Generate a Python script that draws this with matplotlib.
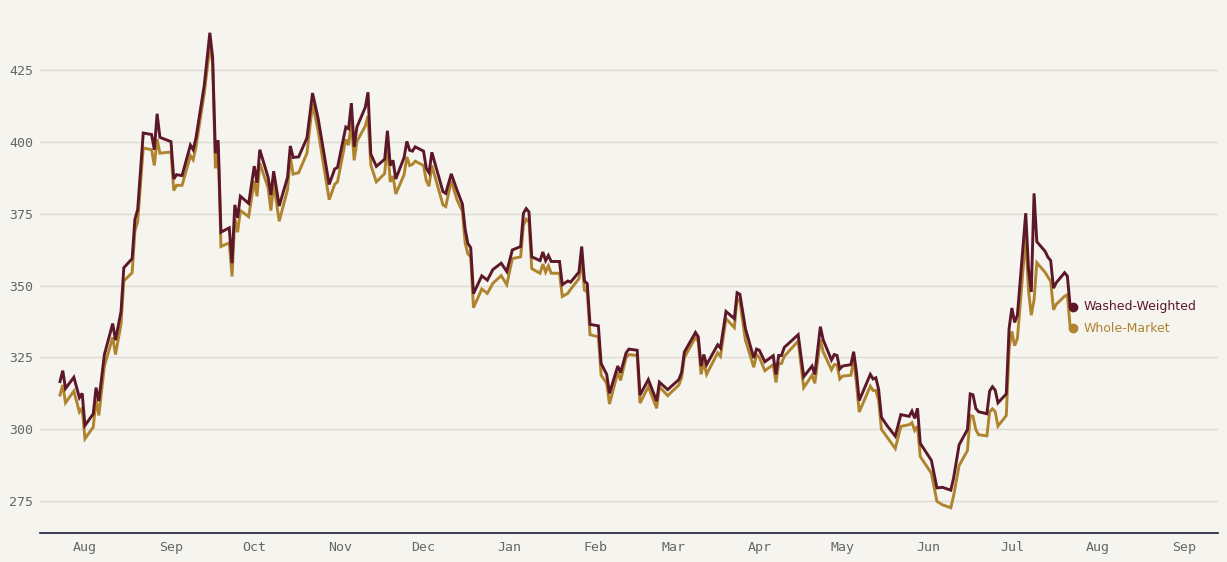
import numpy as np
import pandas as pd
import matplotlib
matplotlib.use("Agg")
from matplotlib import pyplot as plt
import matplotlib.dates as mdates

# day offsets from 1 Aug 2024
days = [-9, -8, -7, -4, -2, -1, 0, 3, 4, 5, 7, 10, 11, 13, 14, 17, 18, 19, 21, 24,
        25, 26, 27, 31, 32, 33, 35, 38, 39, 40, 43, 45, 46, 47, 48, 49, 52, 53, 54, 55,
        56, 59, 61, 62, 63, 66, 67, 68, 70, 73, 74, 75, 77, 80, 82, 84, 88, 90, 91, 94,
        95, 96, 97, 98, 101, 102, 103, 105, 108, 109, 110, 111, 112, 115, 116, 117, 118, 119, 122, 123,
        124, 125, 129, 130, 132, 134, 136, 137, 138, 139, 140, 143, 145, 147, 150, 152, 154, 157, 158, 159,
        160, 161, 164, 165, 166, 167, 168, 171, 172, 174, 175, 178, 179, 180, 181, 182, 185, 186, 188, 189,
        192, 193, 195, 196, 199, 200, 203, 206, 207, 210, 214, 215, 216, 220, 221, 222, 223, 224, 228, 229,
        231, 234, 235, 236, 238, 241, 242, 243, 245, 248, 249, 250, 251, 252, 257, 259, 262, 263, 265, 266,
        269, 270, 271, 272, 273, 276, 277, 278, 279, 283, 284, 285, 286, 287, 289, 292, 294, 297, 298, 299,
        300, 301, 305, 307, 309, 312, 313, 315, 318, 319, 320, 321, 322, 325, 326, 327, 328, 329, 332, 333,
        334, 335, 336, 339, 340, 341, 342, 343, 346, 347, 348, 349, 350, 353, 354, 355, 356]

washed = [316.6, 320.4, 314.2, 318.1, 311.0, 312.5, 301.3, 305.4, 314.5, 309.8, 326.0, 336.8, 331.0, 341.0, 356.2, 359.4, 373.1, 376.5, 403.1, 402.6,
          397.3, 409.8, 401.6, 400.1, 387.1, 388.6, 388.3, 398.9, 397.3, 401.4, 419.8, 438.0, 429.5, 396.1, 400.6, 368.6, 370.1, 357.8, 378.1, 373.6,
          381.1, 378.6, 391.6, 385.8, 397.3, 387.7, 381.5, 389.8, 377.7, 387.7, 398.6, 394.6, 394.8, 401.4, 417.0, 408.3, 385.2, 390.6, 391.1, 405.2,
          404.6, 413.5, 398.3, 405.2, 412.0, 417.3, 395.8, 391.5, 394.0, 403.9, 391.8, 393.6, 387.1, 394.6, 400.2, 397.1, 396.8, 398.3, 396.8, 390.8,
          389.3, 396.4, 382.7, 382.1, 388.9, 383.4, 378.4, 369.6, 364.6, 363.2, 347.2, 353.4, 351.9, 355.6, 357.8, 354.9, 362.4, 363.6, 375.2, 376.8,
          375.6, 360.0, 358.7, 361.7, 358.7, 360.5, 358.4, 358.4, 350.3, 351.6, 351.2, 354.7, 363.6, 351.6, 350.7, 336.5, 336.0, 322.9, 319.1, 312.5,
          322.0, 319.7, 326.6, 327.9, 327.5, 311.9, 317.3, 309.8, 316.4, 313.8, 317.3, 319.8, 326.9, 333.7, 332.2, 322.0, 326.0, 322.5, 329.4, 328.3,
          341.0, 338.5, 347.5, 347.0, 335.0, 324.8, 327.9, 327.5, 323.5, 325.6, 319.1, 325.7, 325.7, 328.5, 332.9, 318.3, 322.0, 319.1, 335.7, 331.2,
          324.1, 326.0, 325.7, 321.0, 322.0, 322.5, 327.0, 319.8, 310.0, 319.1, 317.5, 317.9, 313.8, 304.2, 301.3, 297.6, 305.1, 304.5, 306.3, 303.8,
          307.3, 295.1, 289.2, 279.6, 279.8, 278.8, 283.0, 294.6, 299.9, 312.3, 312.0, 307.3, 306.1, 305.4, 313.3, 314.8, 313.6, 309.2, 312.3, 335.0,
          342.2, 337.2, 339.7, 375.2, 355.9, 347.8, 382.1, 365.3, 361.9, 359.9, 358.7, 349.1, 351.0, 354.5, 353.3, 342.9, 342.6]

whole = [311.9, 315.4, 309.2, 313.3, 306.0, 307.3, 296.7, 300.8, 310.4, 304.8, 322.0, 332.0, 326.0, 336.6, 351.6, 354.5, 369.0, 372.2, 397.9, 397.3,
         391.8, 401.0, 396.1, 396.5, 383.1, 384.9, 384.9, 395.2, 393.8, 398.3, 417.0, 433.2, 427.6, 390.8, 398.3, 363.6, 364.9, 353.2, 373.4, 368.6,
         376.1, 374.0, 386.5, 381.1, 392.7, 384.0, 376.1, 385.6, 372.4, 383.4, 394.8, 388.8, 389.3, 396.1, 413.3, 404.0, 379.9, 385.3, 386.1, 400.9,
         398.9, 407.0, 393.6, 400.2, 405.5, 409.0, 392.0, 386.1, 389.0, 399.5, 386.1, 388.1, 381.9, 388.6, 394.8, 391.8, 392.2, 393.3, 391.8, 386.5,
         384.6, 391.8, 378.1, 377.5, 386.5, 380.0, 375.9, 364.8, 361.0, 360.0, 342.3, 348.8, 347.3, 350.8, 353.5, 350.3, 359.4, 360.0, 371.0, 373.1,
         372.2, 355.9, 354.3, 357.5, 354.7, 356.9, 354.3, 354.3, 346.2, 347.3, 348.7, 352.4, 359.0, 348.4, 347.8, 332.9, 332.2, 318.8, 316.0, 308.8,
         319.8, 317.0, 325.0, 326.0, 325.7, 309.1, 314.8, 307.3, 314.8, 311.7, 315.4, 318.0, 325.0, 332.0, 330.5, 319.1, 323.3, 319.1, 326.6, 325.4,
         338.5, 335.4, 345.4, 344.5, 331.0, 321.6, 326.0, 325.0, 320.4, 322.5, 316.3, 322.9, 322.9, 325.4, 330.7, 314.5, 318.8, 316.0, 331.2, 327.0,
         320.7, 322.5, 322.5, 317.5, 318.5, 318.8, 324.1, 316.0, 306.0, 315.0, 313.5, 313.5, 310.0, 300.0, 297.3, 293.3, 301.0, 301.6, 302.3, 299.6,
         301.1, 290.5, 284.7, 274.9, 273.7, 272.7, 276.8, 287.4, 292.6, 304.8, 304.5, 299.9, 298.1, 297.7, 306.1, 307.1, 306.1, 301.1, 304.8, 328.0,
         334.1, 329.1, 331.6, 367.1, 348.4, 339.7, 345.0, 358.0, 354.6, 353.0, 351.5, 341.6, 343.5, 346.3, 346.8, 335.7, 335.2]

series_names = ["Washed-Weighted", "Whole-Market"]
series_colors = ["#5c1729", "#b0842f"]

base = pd.Timestamp("2024-08-01")
dates = base + pd.to_timedelta(days, unit="D")

bg = "#f5f4ef"
fig = plt.figure(figsize=(12.27, 5.62), dpi=100, facecolor=bg)
ax = fig.add_axes([0.0326, 0.0516, 0.9601, 0.9484], facecolor=bg)

ax.plot(dates, whole, color=series_colors[1], lw=2.1, solid_joinstyle="miter", zorder=3)
ax.plot(dates, washed, color=series_colors[0], lw=2.1, solid_joinstyle="miter", zorder=4)

# end dots and labels
for vals, name, col in [(washed, series_names[0], series_colors[0]), (whole, series_names[1], series_colors[1])]:
    ax.plot(dates[-1], vals[-1], "o", color=col, ms=6, zorder=5)
    ax.annotate(name, (dates[-1], vals[-1]), xytext=(8, 0), textcoords="offset points",
                va="center", ha="left", color=col, fontsize=9, family="DejaVu Sans")

ax.set_xlim(base - pd.Timedelta(days=16.2), base + pd.Timedelta(days=408.3))
ax.set_ylim(263.9, 449.4)
ax.set_yticks([275, 300, 325, 350, 375, 400, 425])

ax.xaxis.set_major_locator(mdates.MonthLocator())
ax.xaxis.set_major_formatter(mdates.DateFormatter("%b"))

ax.grid(axis="y", color="#dcdad2", lw=1)
ax.set_axisbelow(True)
for s in ["left", "right", "top"]:
    ax.spines[s].set_visible(False)
ax.spines["bottom"].set_color("#1b1d3a")
ax.spines["bottom"].set_linewidth(1.2)

ax.tick_params(axis="both", length=0, labelsize=9.5, labelcolor="#666666")
ax.tick_params(axis="y", pad=5)
ax.tick_params(axis="x", pad=6)
for lab in ax.get_xticklabels() + ax.get_yticklabels():
    lab.set_family("DejaVu Sans Mono")

fig.savefig("out.png", dpi=100, facecolor=bg)
